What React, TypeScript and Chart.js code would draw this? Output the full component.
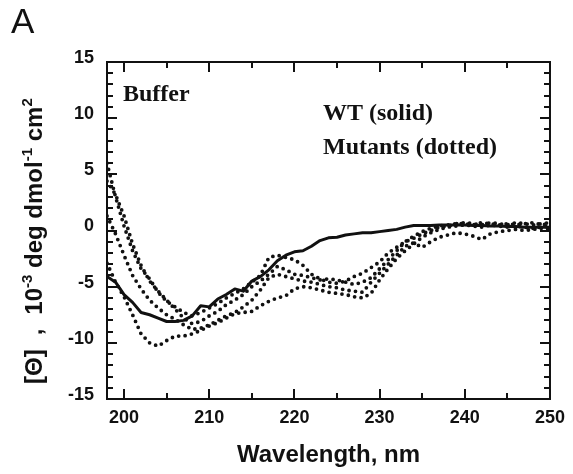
import React, { useEffect, useRef } from "react";
import { Chart, registerables } from "chart.js";

Chart.register(...registerables);

// ---- data ----
const WAVELENGTHS = [
  198, 199, 200, 201, 202, 203, 204, 205, 206, 207, 208, 209, 210, 211, 212, 213, 214, 215,
  216, 217, 218, 219, 220, 221, 222, 223, 224, 225, 226, 227, 228, 229, 230, 231, 232, 233,
  234, 235, 236, 237, 238, 239, 240, 241, 242, 243, 244, 245, 246, 247, 248, 249, 250,
];

const WT = [
  -4.1, -4.6, -5.7, -6.4, -7.3, -7.5, -7.8, -8.1, -8.1, -8.0, -7.6, -6.7, -6.8, -6.1, -5.7, -5.2, -5.4, -4.5,
  -4.1, -3.5, -2.7, -2.2, -1.9, -1.8, -1.4, -0.9, -0.65, -0.6, -0.4, -0.3, -0.2, -0.2, -0.1, 0.0, 0.1, 0.3,
  0.45, 0.45, 0.45, 0.5, 0.5, 0.5, 0.5, 0.45, 0.45, 0.4, 0.4, 0.35, 0.35, 0.3, 0.3, 0.3, 0.3,
];

const MUTANT_1 = [
  6.0, 3.0, 0.4, -1.8, -3.4, -4.3, -5.5, -6.3, -6.8, -7.3, -7.6, -7.3, -6.9, -6.5, -6.0, -5.6, -5.2, -4.6,
  -4.0, -2.4, -2.2, -2.4, -2.6, -3.1, -3.9, -4.3, -4.6, -4.7, -4.5, -4.1, -3.8, -3.3, -2.8, -2.0, -1.5, -1.0,
  -0.7, -0.3, 0.0, 0.3, 0.4, 0.6, 0.7, 0.6, 0.5, 0.7, 0.6, 0.5, 0.7, 0.6, 0.5, 0.6, 0.7,
];

const MUTANT_2 = [
  1.3, -0.3, -2.2, -4.0, -5.2, -6.2, -6.9, -7.5, -7.9, -8.4, -8.8, -8.7, -8.4, -8.0, -7.6, -7.3, -6.8, -6.2,
  -5.3, -4.2, -3.9, -4.1, -4.3, -4.5, -4.6, -4.8, -5.0, -5.1, -5.3, -5.4, -5.5, -4.6, -3.8, -3.0, -2.2, -1.4,
  -1.1, -1.5, -1.0, -0.6, -0.4, -0.2, -0.3, -0.5, -0.8, -0.3, -0.1, 0.0, 0.1, 0.0, 0.1, 0.2, 0.1,
];

const MUTANT_3 = [
  -2.9, -4.6, -5.9, -7.5, -9.2, -10.0, -10.3, -9.8, -9.4, -9.4, -9.2, -8.9, -8.5, -8.2, -7.8, -7.4, -7.3, -7.2,
  -6.7, -6.3, -6.0, -5.8, -5.2, -5.0, -5.1, -5.3, -5.5, -5.6, -5.7, -5.9, -6.0, -5.6, -4.4, -3.4, -2.5, -1.8,
  -1.2, -0.6, -0.2, 0.1, 0.3, 0.4, 0.5, 0.4, 0.3, 0.5, 0.4, 0.3, 0.4, 0.3, 0.2, 0.3, 0.4,
];

const MUTANT_4 = [
  4.4, 3.2, 1.3, -1.2, -3.1, -4.5, -5.4, -6.2, -7.0, -7.8, -8.3, -8.1, -7.6, -7.2, -6.6, -6.2, -5.7, -5.0,
  -4.5, -3.9, -3.2, -3.5, -3.9, -4.0, -4.2, -4.4, -4.3, -4.4, -4.6, -4.8, -4.6, -4.2, -3.4, -2.6, -1.8, -1.0,
  -0.5, -0.1, 0.2, 0.4, 0.5, 0.6, 0.6, 0.5, 0.7, 0.6, 0.5, 0.6, 0.5, 0.6, 0.7, 0.5, 0.6,
];

const MUTANTS = [MUTANT_1, MUTANT_2, MUTANT_3, MUTANT_4];

const X_MAJOR_TICKS = [200, 210, 220, 230, 240, 250];
const X_MINOR_TICKS = [205, 215, 225, 235, 245];
const Y_MAJOR_TICKS = [-15, -10, -5, 0, 5, 10, 15];
const Y_MINOR_TICKS = [
  -14, -13, -12, -11, -9, -8, -7, -6, -4, -3, -2, -1, 1, 2, 3, 4, 6, 7, 8, 9, 11, 12, 13, 14,
];

const PANEL_LABEL = "A";
const CONDITION_LABEL = "Buffer";
const LEGEND_LINES = ["WT (solid)", "Mutants (dotted)"];
const X_TITLE = "Wavelength, nm";
const Y_TITLE_PARTS: { text?: string; sup?: boolean; gap?: number }[] = [
  { text: "[Θ]" },
  { gap: 14 },
  { text: "," },
  { gap: 14 },
  { text: "10" },
  { text: "-3", sup: true },
  { text: " deg dmol" },
  { text: "-1", sup: true },
  { text: " cm" },
  { text: "2", sup: true },
];

const toPoints = (vals: number[]) => WAVELENGTHS.map((x, i) => ({ x, y: vals[i] }));

const SANS = '"Liberation Sans", Arial, sans-serif';
const SERIF = '"Liberation Serif", "Times New Roman", serif';
const INK = "#111111";

const decorPlugin = {
  id: "decor",
  afterDraw(chart: any) {
    const { ctx, chartArea } = chart;
    const { left, right, top, bottom } = chartArea;
    const xs = chart.scales.x;
    const ys = chart.scales.y;
    ctx.save();
    ctx.strokeStyle = INK;
    ctx.lineWidth = 2;
    ctx.strokeRect(left, top, right - left, bottom - top);

    const tick = (x1: number, y1: number, x2: number, y2: number) => {
      ctx.beginPath();
      ctx.moveTo(x1, y1);
      ctx.lineTo(x2, y2);
      ctx.stroke();
    };
    X_MAJOR_TICKS.forEach((v) => {
      const p = Math.round(xs.getPixelForValue(v));
      tick(p, bottom, p, bottom - 10);
      tick(p, top, p, top + 10);
    });
    X_MINOR_TICKS.forEach((v) => {
      const p = Math.round(xs.getPixelForValue(v));
      tick(p, bottom, p, bottom - 6);
      tick(p, top, p, top + 6);
    });
    Y_MAJOR_TICKS.forEach((v) => {
      const p = Math.round(ys.getPixelForValue(v));
      tick(left, p, left + 10, p);
      tick(right, p, right - 10, p);
    });
    Y_MINOR_TICKS.forEach((v) => {
      const p = Math.round(ys.getPixelForValue(v));
      tick(left, p, left + 6, p);
      tick(right, p, right - 6, p);
    });

    ctx.fillStyle = INK;
    ctx.textBaseline = "alphabetic";
    ctx.textAlign = "left";

    // panel label
    ctx.font = `35px ${SANS}`;
    ctx.fillText(PANEL_LABEL, 11, 33);

    // annotations
    ctx.font = `bold 24px ${SERIF}`;
    ctx.fillText(CONDITION_LABEL, 123, 101);
    ctx.fillText(LEGEND_LINES[0], 323, 120);
    ctx.fillText(LEGEND_LINES[1], 323, 154);

    // x title
    ctx.font = `bold 24px ${SANS}`;
    ctx.textAlign = "center";
    ctx.textBaseline = "middle";
    ctx.fillText(X_TITLE, (left + right) / 2, 455);

    // y title (rotated, with superscripts)
    ctx.save();
    ctx.translate(42, 384);
    ctx.rotate(-Math.PI / 2);
    ctx.textAlign = "left";
    ctx.textBaseline = "alphabetic";
    let cx = 0;
    for (const seg of Y_TITLE_PARTS) {
      if (seg.gap) {
        cx += seg.gap;
        continue;
      }
      const t = seg.text || "";
      ctx.font = seg.sup ? `bold 15px ${SANS}` : `bold 24px ${SANS}`;
      ctx.fillText(t, cx, seg.sup ? -10 : 0);
      cx += ctx.measureText(t).width;
    }
    ctx.restore();
    ctx.restore();
  },
};

export default function App() {
  const canvasRef = useRef<HTMLCanvasElement | null>(null);

  useEffect(() => {
    const canvas = canvasRef.current;
    if (!canvas) return;
    const mutantSets = MUTANTS.map((m, i) => ({
      label: `Mutant ${i + 1}`,
      data: toPoints(m),
      borderColor: INK,
      backgroundColor: INK,
      borderWidth: 3.8,
      borderDash: [0, 6.5],
      borderCapStyle: "round" as const,
      pointRadius: 0,
      tension: 0,
      fill: false,
    }));
    const chart = new Chart(canvas, {
      type: "line",
      data: {
        datasets: [
          {
            label: "WT",
            data: toPoints(WT),
            borderColor: INK,
            borderWidth: 3,
            pointRadius: 0,
            tension: 0,
            fill: false,
            borderJoinStyle: "round",
          },
          ...mutantSets,
        ],
      },
      options: {
        animation: false,
        responsive: false,
        devicePixelRatio: 1,
        layout: { padding: { left: 0, top: 62, right: 18, bottom: 0 } },
        plugins: { legend: { display: false }, tooltip: { enabled: false } },
        scales: {
          x: {
            type: "linear",
            min: 198,
            max: 250,
            grid: { display: false, drawTicks: false },
            border: { display: false },
            afterFit: (s: any) => {
              s.height = 75;
            },
            afterBuildTicks: (s: any) => {
              s.ticks = X_MAJOR_TICKS.map((v) => ({ value: v }));
            },
            ticks: {
              color: INK,
              padding: 8,
              maxRotation: 0,
              font: { family: SANS, size: 18, weight: "bold" },
            },
          },
          y: {
            type: "linear",
            min: -15,
            max: 15,
            grid: { display: false, drawTicks: false },
            border: { display: false },
            afterFit: (s: any) => {
              s.width = 107;
            },
            afterBuildTicks: (s: any) => {
              s.ticks = Y_MAJOR_TICKS.map((v) => ({ value: v }));
            },
            ticks: {
              color: INK,
              padding: 13,
              labelOffset: -4,
              font: { family: SANS, size: 18, weight: "bold" },
            },
          },
        },
      },
      plugins: [decorPlugin],
    });
    return () => chart.destroy();
  }, []);

  return (
    <div style={{ position: "fixed", left: 0, top: 0, width: 573, height: 474, background: "#fff" }}>
      <canvas ref={canvasRef} width={573} height={474} style={{ display: "block" }} />
    </div>
  );
}
